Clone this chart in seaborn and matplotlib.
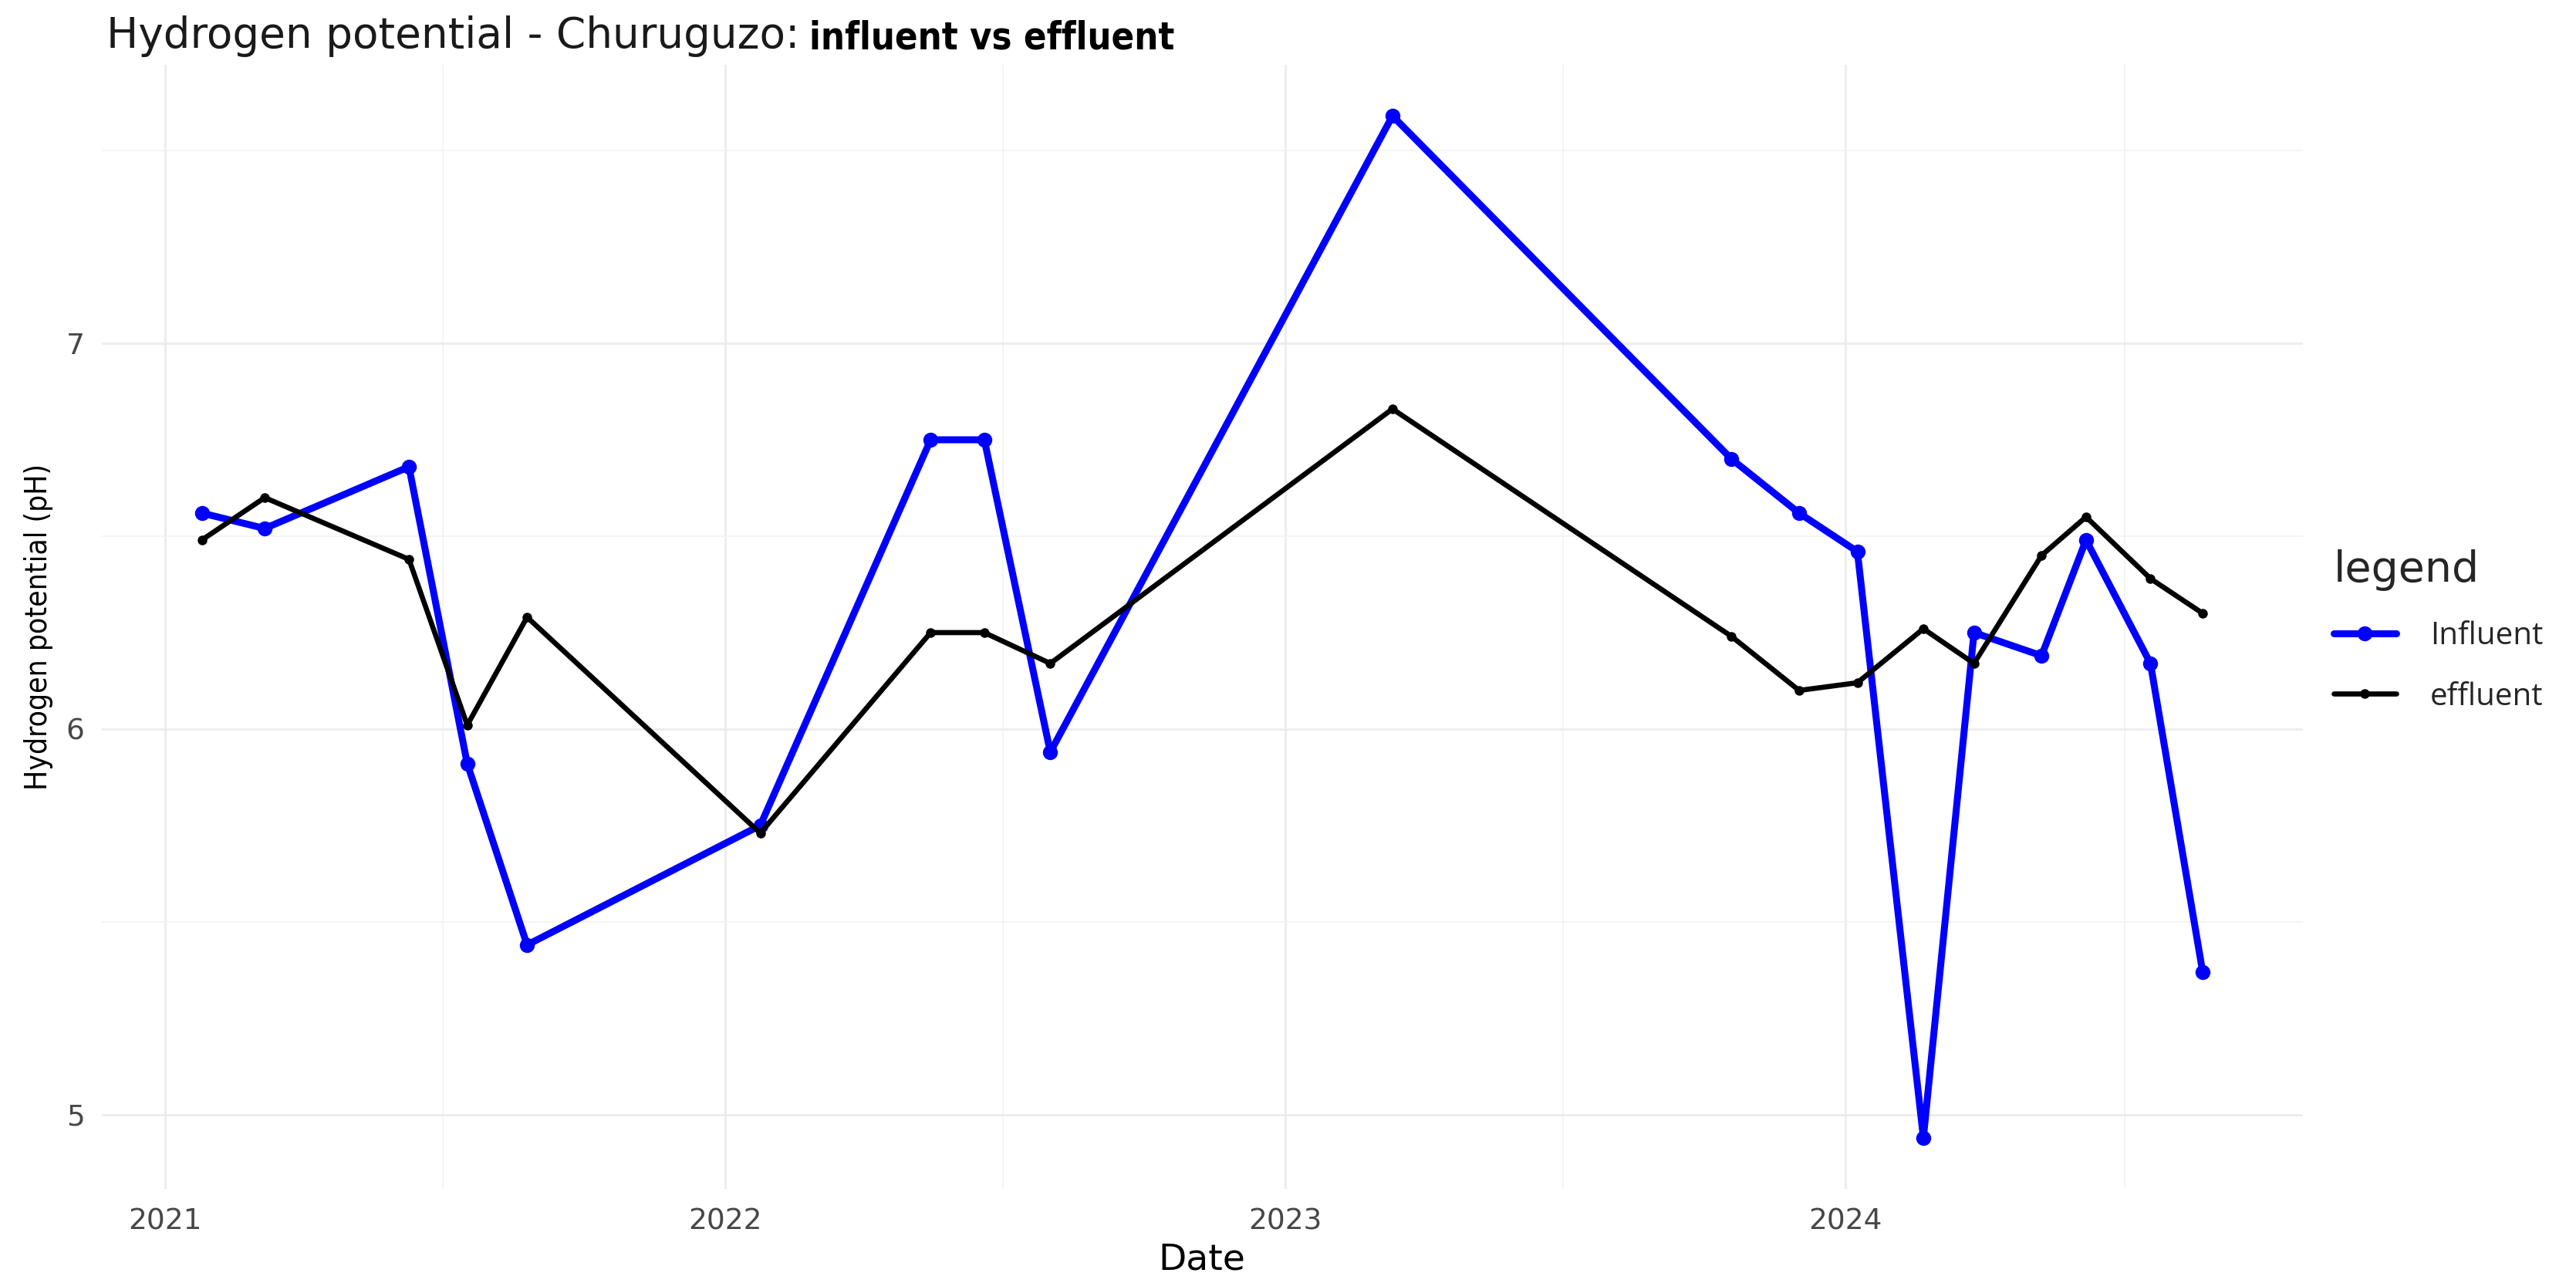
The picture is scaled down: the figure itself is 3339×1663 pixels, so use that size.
import pandas as pd
import matplotlib.pyplot as plt
import matplotlib.dates as mdates
from matplotlib import font_manager
from matplotlib.ticker import MultipleLocator
import seaborn as sns

# values
dates = ['2021-01-25', '2021-03-07', '2021-06-09', '2021-07-17', '2021-08-25',
         '2022-01-24', '2022-05-15', '2022-06-19', '2022-08-01', '2023-03-12',
         '2023-10-19', '2023-12-02', '2024-01-09', '2024-02-21', '2024-03-25',
         '2024-05-08', '2024-06-06', '2024-07-18', '2024-08-21']
influent = [6.56, 6.52, 6.68, 5.91, 5.44, 5.75, 6.75, 6.75, 5.94, 7.59,
            6.70, 6.56, 6.46, 4.94, 6.25, 6.19, 6.49, 6.17, 5.37]
effluent = [6.49, 6.60, 6.44, 6.01, 6.29, 5.73, 6.25, 6.25, 6.17, 6.83,
            6.24, 6.10, 6.12, 6.26, 6.17, 6.45, 6.55, 6.39, 6.30]
series = ['Influent', 'effluent']
colors = {'Influent': '#0000FF', 'effluent': '#000000'}

df = pd.DataFrame({
    'date': pd.to_datetime(dates * 2),
    'pH': influent + effluent,
    'legend': [series[0]] * len(dates) + [series[1]] * len(dates),
})

sns.set_theme(style='whitegrid')
plt.rcParams['font.family'] = ['DejaVu Sans']

installed = {f.name for f in font_manager.fontManager.ttflist}
narrow = 'Liberation Sans Narrow' if 'Liberation Sans Narrow' in installed else 'DejaVu Sans'
label_font = 'Open Sans' if 'Open Sans' in installed else 'DejaVu Sans'

fig = plt.figure(figsize=(33.39, 16.63), dpi=100)
ax = fig.add_axes([0.0395, 0.0734, 0.8544, 0.8761])

# blue first, black on top (same order as the original)
sns.lineplot(data=df[df['legend'] == 'Influent'], x='date', y='pH', ax=ax,
             color=colors['Influent'], linewidth=6.5, marker='o', markersize=14,
             markeredgewidth=0, label='Influent')
sns.lineplot(data=df[df['legend'] == 'effluent'], x='date', y='pH', ax=ax,
             color=colors['effluent'], linewidth=4.8, marker='o', markersize=9,
             markeredgewidth=0, label='effluent')

# axes / grid
ax.xaxis.set_major_locator(mdates.YearLocator())
ax.xaxis.set_major_formatter(mdates.DateFormatter('%Y'))
ax.xaxis.set_minor_locator(mdates.MonthLocator(bymonth=7))
ax.yaxis.set_major_locator(MultipleLocator(1))
ax.yaxis.set_minor_locator(MultipleLocator(0.5))
ax.grid(True, which='major', color='#EBEBEB', linewidth=1.9)
ax.grid(True, which='minor', color='#F3F3F3', linewidth=1.3)
for s in ax.spines.values():
    s.set_visible(False)
ax.tick_params(axis='both', which='both', length=0, labelsize=27, labelcolor='#474747')
ax.tick_params(axis='x', pad=18)
ax.tick_params(axis='y', pad=16)

ax.set_xlabel('Date', fontsize=34, labelpad=6, color='black')
ax.set_ylabel('Hydrogen potential (pH)', fontsize=28, family=narrow, fontstretch='condensed',
              labelpad=12, color='black')

# title in two parts, second one bold condensed
t1 = fig.text(138 / 3339, 1 - 62 / 1663, 'Hydrogen potential - Churuguzo:',
              fontsize=39.5, va='baseline', color='#1a1a1a')
ax.annotate('influent vs effluent', xy=(1, 0), xycoords=t1,
            xytext=(9, 0), textcoords='offset points',
            fontsize=35, fontweight='bold', fontstretch='condensed',
            va='bottom', ha='left', color='black')

leg = ax.legend(title='legend', loc='upper left',
                bbox_to_anchor=(3025 / 3339, 1 - 712 / 1663), bbox_transform=fig.transFigure,
                frameon=False, prop={'family': label_font, 'size': 29}, title_fontsize=40,
                handlelength=2.0, handletextpad=1.1, labelspacing=0.95,
                borderpad=0, borderaxespad=0, alignment='left')

fig.savefig('out.png', dpi=100, facecolor='white')
plt.close()
